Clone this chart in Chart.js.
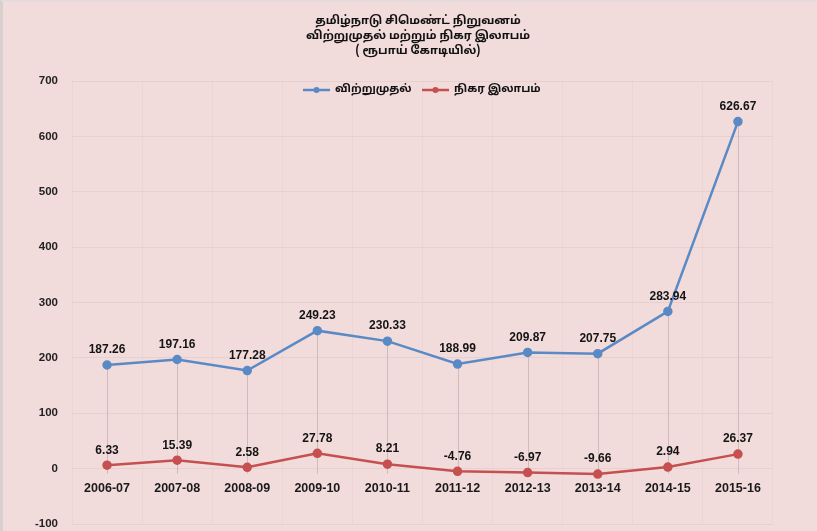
<!DOCTYPE html>
<html>
<head>
<meta charset="utf-8">
<script src="https://cdn.jsdelivr.net/npm/chart.js@4.4.1/dist/chart.umd.min.js"></script>
<style>
  html, body { margin: 0; padding: 0; background: #f1dbdb; overflow: hidden; }
  #wrap { position: relative; width: 817px; height: 531px; box-sizing: border-box; overflow: hidden;
          border-left: 3px solid #d6d0cf; border-top: 2px solid #e4dcdc; }
  canvas { display: block; }
</style>
</head>
<body>
<div id="wrap"><canvas id="chart" width="814" height="543"></canvas></div>
<script>
const years = ['2006-07', '2007-08', '2008-09', '2009-10', '2010-11', '2011-12', '2012-13', '2013-14', '2014-15', '2015-16'];
const turnover = [187.26, 197.16, 177.28, 249.23, 230.33, 188.99, 209.87, 207.75, 283.94, 626.67];
const netProfit = [6.33, 15.39, 2.58, 27.78, 8.21, -4.76, -6.97, -9.66, 2.94, 26.37];
const titleLines = ['தமிழ்நாடு சிமெண்ட் நிறுவனம்', 'விற்றுமுதல் மற்றும் நிகர இலாபம்', '( ரூபாய் கோடியில்)'];
const seriesNames = ['விற்றுமுதல்', 'நிகர இலாபம்'];

const blue = '#5a8ac6';
const red = '#c5504f';
const tamilFont = '"Noto Sans Tamil", "Lohit Tamil", "Noto Sans", sans-serif';

// drop lines from the highest point down to zero, Excel style
const dropLines = {
  id: 'dropLines',
  beforeDatasetsDraw(chart) {
    const ctx = chart.ctx;
    const x = chart.scales.x, y = chart.scales.y;
    ctx.save();
    ctx.strokeStyle = 'rgba(160,150,150,0.45)';
    ctx.lineWidth = 1;
    years.forEach((_, i) => {
      const top = Math.max(turnover[i], netProfit[i]);
      const px = Math.round(x.getPixelForValue(i)) + 0.5;
      ctx.beginPath();
      ctx.moveTo(px, y.getPixelForValue(top));
      ctx.lineTo(px, y.getPixelForValue(0) + 5);
      ctx.stroke();
    });
    ctx.restore();
  }
};

// value labels above each point
const valueLabels = {
  id: 'valueLabels',
  afterDatasetsDraw(chart) {
    const ctx = chart.ctx;
    ctx.save();
    ctx.font = 'bold 12px "Liberation Sans", Arial, sans-serif';
    ctx.fillStyle = '#141414';
    ctx.textAlign = 'center';
    ctx.textBaseline = 'middle';
    chart.data.datasets.forEach((ds, di) => {
      chart.getDatasetMeta(di).data.forEach((pt, i) => {
        ctx.fillText(ds.data[i].toFixed(2), pt.x, pt.y - 15);
      });
    });
    ctx.restore();
  }
};

// title and legend drawn over the plot, like the original
const header = {
  id: 'header',
  afterDraw(chart) {
    const ctx = chart.ctx;
    const cx = 415;
    ctx.save();
    ctx.fillStyle = '#111';
    ctx.textAlign = 'center';
    ctx.textBaseline = 'middle';
    ctx.font = 'bold 11.5px ' + tamilFont;
    titleLines.forEach((t, i) => ctx.fillText(t, cx, 20 + i * 15));

    const items = [{ x: 300, c: blue, t: seriesNames[0] }, { x: 419, c: red, t: seriesNames[1] }];
    ctx.textAlign = 'left';
    ctx.font = 'bold 11px ' + tamilFont;
    items.forEach(it => {
      const ly = 88;
      ctx.strokeStyle = it.c;
      ctx.lineWidth = 2.5;
      ctx.beginPath();
      ctx.moveTo(it.x, ly);
      ctx.lineTo(it.x + 27, ly);
      ctx.stroke();
      ctx.fillStyle = it.c;
      ctx.beginPath();
      ctx.arc(it.x + 13.5, ly, 3, 0, Math.PI * 2);
      ctx.fill();
      ctx.fillStyle = '#111';
      ctx.fillText(it.t, it.x + 32, ly);
    });
    ctx.restore();
  }
};

new Chart(document.getElementById('chart'), {
  type: 'line',
  data: {
    labels: years,
    datasets: [
      { label: seriesNames[0], data: turnover, borderColor: blue, backgroundColor: blue,
        borderWidth: 2.5, pointRadius: 3.5, pointBackgroundColor: blue, tension: 0 },
      { label: seriesNames[1], data: netProfit, borderColor: red, backgroundColor: red,
        borderWidth: 2.5, pointRadius: 3.5, pointBackgroundColor: red, tension: 0 }
    ]
  },
  options: {
    responsive: false,
    animation: false,
    layout: { padding: { top: 79, right: 44, bottom: 2, left: 0 } },
    plugins: { legend: { display: false }, title: { display: false }, tooltip: { enabled: false } },
    scales: {
      x: {
        position: { y: 0 },
        offset: true,
        grid: { display: true, offset: true, color: 'rgba(215,190,190,0.18)', drawTicks: false },
        border: { display: false },
        ticks: { color: '#1a1a1a', padding: 12, maxRotation: 0,
                 font: { family: '"Liberation Sans", Arial, sans-serif', size: 12.5, weight: 'bold' } },
        afterFit(scale) { scale.height = 0; }
      },
      y: {
        min: -100, max: 700,
        ticks: { stepSize: 100, color: '#222', padding: 14,
                 font: { family: '"Liberation Sans", Arial, sans-serif', size: 11.5, weight: 'bold' } },
        grid: { color: 'rgba(205,180,180,0.28)', drawTicks: false },
        border: { display: false },
        afterFit(scale) { scale.width = 69; }
      }
    }
  },
  plugins: [dropLines, valueLabels, header]
});
</script>
</body>
</html>
